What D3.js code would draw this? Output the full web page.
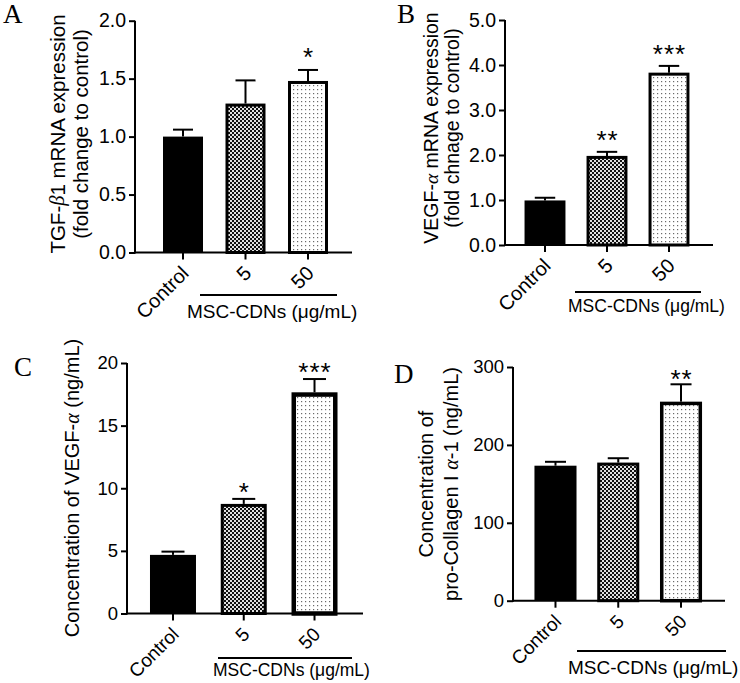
<!DOCTYPE html>
<html>
<head>
<meta charset="utf-8">
<script src="https://cdn.jsdelivr.net/npm/d3@7"></script>
<style>
  html, body { margin: 0; padding: 0; background: #fff; }
  svg { display: block; font-family: "Liberation Sans", Arial, sans-serif; }
</style>
</head>
<body>
<script>
// ---------- data ----------
const categories = ["Control", "5", "50"];
const fills = ["solid", "checker", "dots"];

const meansA = [1.00, 1.285, 1.48];
const errsA  = [0.06, 0.20, 0.095];
const starsA = ["", "", "*"];
const ticksA = [0, 0.5, 1.0, 1.5, 2.0];

const meansB = [0.99, 1.98, 3.83];
const errsB  = [0.06, 0.09, 0.15];
const starsB = ["", "**", "***"];
const ticksB = [0, 1, 2, 3, 4, 5];

const meansC = [4.68, 8.75, 17.66];
const errsC  = [0.26, 0.40, 1.06];
const starsC = ["", "*", "***"];
const ticksC = [0, 5, 10, 15, 20];

const meansD = [173.3, 177.3, 255.5];
const errsD  = [5.0, 5.6, 22.3];
const starsD = ["", "", "**"];
const ticksD = [0, 100, 200, 300];

const groupLabel = "MSC-CDNs (\u03bcg/mL)";

// ---------- svg ----------
const svg = d3.select("body").append("svg").attr("width", 740).attr("height", 683);
const defs = svg.append("defs");
const pc = defs.append("pattern").attr("id", "checker").attr("patternUnits", "userSpaceOnUse")
  .attr("width", 4).attr("height", 4);
pc.append("rect").attr("width", 4).attr("height", 4).attr("fill", "#e0e0e0");
pc.append("rect").attr("x", 0).attr("y", 0).attr("width", 2).attr("height", 2).attr("fill", "#111");
pc.append("rect").attr("x", 2).attr("y", 2).attr("width", 2).attr("height", 2).attr("fill", "#111");
const pd = defs.append("pattern").attr("id", "dots").attr("patternUnits", "userSpaceOnUse")
  .attr("width", 4).attr("height", 4);
pd.append("rect").attr("width", 4).attr("height", 4).attr("fill", "#ffffff");
pd.append("rect").attr("x", 1).attr("y", 1).attr("width", 1.2).attr("height", 1.2).attr("fill", "#6a6a6a");

function drawPanel(cfg) {
  const g = svg.append("g");
  const y = d3.scaleLinear().domain(cfg.domain).range([cfg.y0, cfg.yTop]);
  const x = d3.scaleBand().domain(categories).range(cfg.xr)
    .paddingInner(cfg.pad).paddingOuter(cfg.pad / 2);
  const bw = x.bandwidth();

  // bars
  cfg.means.forEach((m, i) => {
    const cx = x(categories[i]);
    if (fills[i] === "solid") {
      g.append("rect").attr("x", cx).attr("y", y(m)).attr("width", bw)
        .attr("height", cfg.y0 - y(m)).attr("fill", "#000");
    } else {
      const sw = (fills[i] === "dots") ? cfg.sw50 : cfg.sw;
      g.append("rect").attr("x", cx + sw / 2).attr("y", y(m) + sw / 2)
        .attr("width", bw - sw).attr("height", cfg.y0 - y(m) - sw / 2)
        .attr("fill", "url(#" + fills[i] + ")").attr("stroke", "#000").attr("stroke-width", sw);
    }
    // error bar (upper)
    const c = cx + bw / 2;
    const top = y(m + cfg.errs[i]);
    g.append("line").attr("x1", c).attr("x2", c).attr("y1", y(m)).attr("y2", top)
      .attr("stroke", "#000").attr("stroke-width", 2);
    g.append("line").attr("x1", c - bw / 4).attr("x2", c + bw / 4).attr("y1", top).attr("y2", top)
      .attr("stroke", "#000").attr("stroke-width", 2);
    if (cfg.stars[i]) {
      g.append("text").attr("x", c + 0.5).attr("y", top - cfg.starGap)
        .attr("text-anchor", "middle").attr("font-size", 26)
        .attr("letter-spacing", 1).text(cfg.stars[i]);
    }
  });

  // y axis
  const ya = d3.axisLeft(y).tickValues(cfg.ticks).tickSize(6).tickSizeOuter(0).tickPadding(3)
    .tickFormat(cfg.fmt);
  const yg = g.append("g").attr("transform", `translate(${cfg.ax},0)`).call(ya);
  yg.select(".domain").attr("stroke-width", 2);
  yg.selectAll(".tick line").attr("stroke-width", 2);
  yg.selectAll(".tick text").attr("font-size", cfg.fs).attr("font-family", "Liberation Sans, Arial, sans-serif")
    .attr("fill", "#000");
  yg.select(".domain").attr("d", `M0,${cfg.y0 + 1}V${cfg.yTop}`);

  // x axis line
  g.append("line").attr("x1", cfg.ax - 1).attr("x2", cfg.xEnd).attr("y1", cfg.y0).attr("y2", cfg.y0)
    .attr("stroke", "#000").attr("stroke-width", 2);
  categories.forEach(cat => {
    const c = x(cat) + bw / 2;
    g.append("line").attr("x1", c).attr("x2", c).attr("y1", cfg.y0).attr("y2", cfg.y0 + 7)
      .attr("stroke", "#000").attr("stroke-width", 2);
    g.append("text").attr("text-anchor", "end").attr("font-size", cfg.fs + 0.5)
      .attr("transform", `translate(${c + 7},${cfg.y0 + 22}) rotate(-45)`).text(cat);
  });

  // bracket
  g.append("line").attr("x1", cfg.br[0]).attr("x2", cfg.br[1]).attr("y1", cfg.brY).attr("y2", cfg.brY)
    .attr("stroke", "#000").attr("stroke-width", 2);
  g.append("text").attr("x", cfg.brTx).attr("y", cfg.brTy).attr("font-size", cfg.brFs).text(groupLabel);

  // y label
  cfg.ylab.forEach((parts, li) => {
    const t = g.append("text").attr("text-anchor", "middle").attr("font-size", cfg.yfs)
      .attr("dominant-baseline", "central")
      .attr("transform", `translate(${cfg.ylx[li]},${cfg.yly}) rotate(-90)`);
    parts.forEach(p => {
      const s = t.append("tspan").text(p.t);
      if (p.it) s.attr("font-style", "italic").attr("font-family", "Liberation Serif, Times New Roman, serif");
    });
  });

  // panel letter
  g.append("text").attr("x", cfg.lx).attr("y", cfg.ly).attr("font-size", 27)
    .attr("font-family", "Liberation Serif, Times New Roman, serif").text(cfg.letter);
}

drawPanel({
  letter: "A", lx: 3, ly: 23,
  means: meansA, errs: errsA, stars: starsA, ticks: ticksA, domain: [0, 2],
  fmt: d3.format(".1f"), fs: 19.5,
  ax: 135, xEnd: 352, y0: 252.5, yTop: 20.7,
  xr: [151.75, 339.25], pad: 0.36, sw: 3, sw50: 3, starGap: 4,
  br: [200, 337], brY: 295, brTx: 187, brTy: 318, brFs: 19,
  ylab: [[{t: "TGF-"}, {t: "\u03b2", it: true}, {t: "1 mRNA expression"}], [{t: "(fold change to control)"}]],
  ylx: [57, 80], yly: 134, yfs: 20.5
});

drawPanel({
  letter: "B", lx: 397, ly: 23,
  means: meansB, errs: errsB, stars: starsB, ticks: ticksB, domain: [0, 5],
  fmt: d3.format(".1f"), fs: 19.5,
  ax: 505, xEnd: 713, y0: 245, yTop: 20,
  xr: [514, 700], pad: 0.34, sw: 3, sw50: 3, starGap: 3,
  br: [575, 701], brY: 292, brTx: 568, brTy: 312, brFs: 17.5,
  ylab: [[{t: "VEGF-"}, {t: "\u03b1", it: true}, {t: " mRNA expression"}], [{t: "(fold chnage to control)"}]],
  ylx: [431, 452], yly: 128, yfs: 19.5
});

drawPanel({
  letter: "C", lx: 14, ly: 376,
  means: meansC, errs: errsC, stars: starsC, ticks: ticksC, domain: [0, 20],
  fmt: d3.format("d"), fs: 18.5,
  ax: 127, xEnd: 363, y0: 613.5, yTop: 363,
  xr: [137.6, 349.9], pad: 0.35, sw: 3, sw50: 4.5, starGap: -2,
  br: [218, 352], brY: 658, brTx: 213, brTy: 676, brFs: 17.5,
  ylab: [[{t: "Concentration of VEGF-"}, {t: "\u03b1", it: true}, {t: " (ng/mL)"}]],
  ylx: [72], yly: 488, yfs: 20
});

drawPanel({
  letter: "D", lx: 394, ly: 383,
  means: meansD, errs: errsD, stars: starsD, ticks: ticksD, domain: [0, 300],
  fmt: d3.format("d"), fs: 18.5,
  ax: 513, xEnd: 725, y0: 600.7, yTop: 367,
  xr: [524.1, 712.4], pad: 0.33, sw: 3, sw50: 3.5, starGap: -4,
  br: [577, 726], brY: 651, brTx: 568, brTy: 674, brFs: 19,
  ylab: [[{t: "Concentration of"}], [{t: "pro-Collagen I "}, {t: "\u03b1", it: true}, {t: "-1 (ng/mL)"}]],
  ylx: [426, 451], yly: 484, yfs: 20
});
</script>
</body>
</html>
